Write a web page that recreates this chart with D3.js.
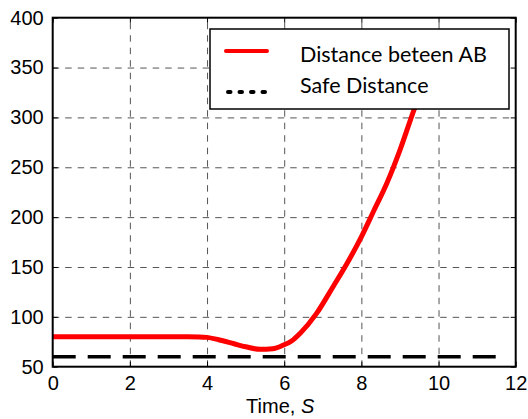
<!DOCTYPE html>
<head>
  <meta charset="utf-8">
  <script src="https://d3js.org/d3.v7.min.js"></script>
  <style>
    body { margin:0; background:white; }
  </style>
</head>
<body>
<script>
  // time axis (s) and distance between A and B
  const time = [0, 1, 2, 3, 3.5, 3.8, 4.0, 4.3, 4.7, 5.0, 5.37, 5.7, 5.98, 6.2, 6.41, 6.84, 7.27, 7.62, 8.01, 8.31, 8.66, 9.0, 9.39, 9.9];
  const dist = [80, 80, 80, 80, 80, 79.9, 79.4, 77, 73, 70, 67.4, 68, 71.7, 76, 83.4, 103.5, 130.5, 153, 181, 205.4, 234, 267.3, 310.4, 358];
  const safeTime = [0, 11.65];
  const safeDist = [60, 60];
  const xTicks = [0, 2, 4, 6, 8, 10, 12];
  const yTicks = [50, 100, 150, 200, 250, 300, 350, 400];
  const legendLabels = ['Distance beteen AB', 'Safe Distance'];

  const W = 528, H = 419;
  const mLeft = 52.7, mRight = 515.7, mTop = 17.7, mBottom = 366.7;

  const svg = d3.select('body').append('svg')
    .attr('width', W).attr('height', H);

  const x = d3.scaleLinear().domain([0, 12]).range([mLeft, mRight]);
  const y = d3.scaleLinear().domain([50, 400]).range([mBottom, mTop]);

  const tickFont = '"Liberation Sans", Arial, sans-serif';

  // grid
  const grid = svg.append('g');
  grid.append('g')
    .attr('transform', `translate(0,${mBottom})`)
    .call(d3.axisBottom(x).tickValues(xTicks.slice(1, -1)).tickSize(-(mBottom - mTop)).tickFormat(''))
    .call(g => g.select('.domain').remove());
  grid.append('g')
    .attr('transform', `translate(${mLeft},0)`)
    .call(d3.axisLeft(y).tickValues(yTicks.slice(1, -1)).tickSize(-(mRight - mLeft)).tickFormat(''))
    .call(g => g.select('.domain').remove());
  grid.selectAll('line')
    .attr('stroke', '#555')
    .attr('stroke-width', 1)
    .attr('stroke-dasharray', '6.5,6');

  // safe distance
  const line = d3.line().x(d => x(d[0])).y(d => y(d[1]));
  svg.append('path')
    .datum(d3.zip(safeTime, safeDist))
    .attr('d', line)
    .attr('fill', 'none')
    .attr('stroke', 'black')
    .attr('stroke-width', 3.5)
    .attr('stroke-dasharray', '23,12');

  // distance between A and B
  svg.append('path')
    .datum(d3.zip(time, dist))
    .attr('d', line.curve(d3.curveMonotoneX))
    .attr('fill', 'none')
    .attr('stroke', 'red')
    .attr('stroke-width', 5)
    .attr('stroke-linejoin', 'round');

  // axes with inward ticks
  const axB = svg.append('g').attr('transform', `translate(0,${mBottom})`)
    .call(d3.axisBottom(x).tickValues(xTicks).tickSizeInner(-5).tickSizeOuter(0).tickPadding(9));
  const axL = svg.append('g').attr('transform', `translate(${mLeft},0)`)
    .call(d3.axisLeft(y).tickValues(yTicks).tickSizeInner(-5).tickSizeOuter(0).tickPadding(9));
  const axT = svg.append('g').attr('transform', `translate(0,${mTop})`)
    .call(d3.axisTop(x).tickValues(xTicks).tickSizeInner(-5).tickSizeOuter(0).tickFormat(''));
  const axR = svg.append('g').attr('transform', `translate(${mRight},0)`)
    .call(d3.axisRight(y).tickValues(yTicks).tickSizeInner(-5).tickSizeOuter(0).tickFormat(''));
  [axB, axL, axT, axR].forEach(g => {
    g.select('.domain').remove();
    g.selectAll('line').attr('stroke', 'black').attr('stroke-width', 1);
    g.selectAll('text')
      .attr('fill', 'black')
      .style('font-family', tickFont)
      .style('font-size', '20px');
  });

  svg.append('rect')
    .attr('x', mLeft).attr('y', mTop)
    .attr('width', mRight - mLeft).attr('height', mBottom - mTop)
    .attr('fill', 'none')
    .attr('stroke', 'black')
    .attr('stroke-width', 2);

  // x label
  const xl = svg.append('text')
    .attr('x', (mLeft + mRight) / 2 - 4)
    .attr('y', 413)
    .attr('text-anchor', 'middle')
    .style('font-family', tickFont)
    .style('font-size', '20px');
  xl.append('tspan').text('Time, ');
  xl.append('tspan').style('font-style', 'italic').text('S');

  // legend
  const lg = svg.append('g');
  lg.append('rect')
    .attr('x', 210).attr('y', 29)
    .attr('width', 299).attr('height', 80)
    .attr('fill', 'white')
    .attr('stroke', 'black')
    .attr('stroke-width', 1.5);
  lg.append('line')
    .attr('x1', 226).attr('x2', 267).attr('y1', 51).attr('y2', 51)
    .attr('stroke', 'red').attr('stroke-width', 4).attr('stroke-linecap', 'round');
  lg.append('line')
    .attr('x1', 228).attr('x2', 266).attr('y1', 92).attr('y2', 92)
    .attr('stroke', 'black').attr('stroke-width', 4)
    .attr('stroke-linecap', 'round')
    .attr('stroke-dasharray', '2.5,9');
  lg.selectAll('text.leg')
    .data(legendLabels)
    .join('text')
    .attr('class', 'leg')
    .attr('x', 300)
    .attr('y', (d, i) => i === 0 ? 62 : 92.5)
    .style('font-family', 'Lato, sans-serif')
    .style('font-size', '21.5px')
    .attr('fill', 'black')
    .text(d => d);
</script>
</body>
